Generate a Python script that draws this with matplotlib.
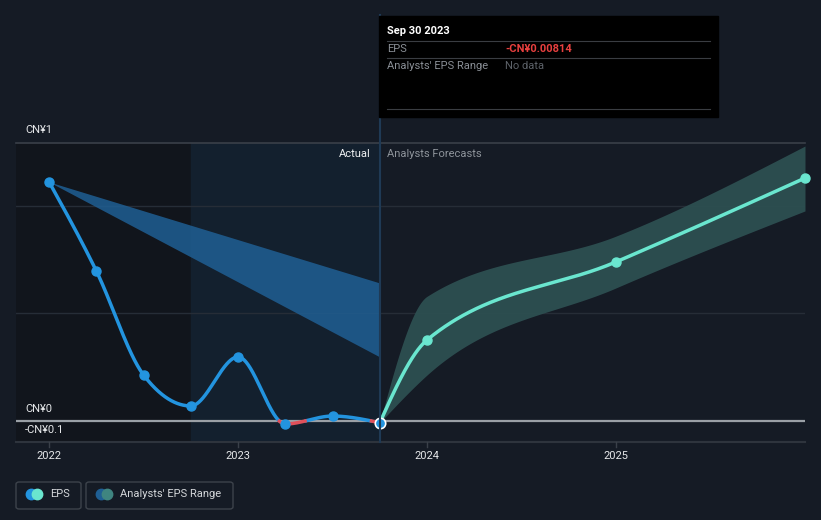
import numpy as np
import matplotlib
matplotlib.use("Agg")
import matplotlib.pyplot as plt
from matplotlib.patches import FancyBboxPatch, Rectangle, Circle

plt.rcParams['font.family'] = ['Roboto', 'DejaVu Sans']

# ---- data ----
eps_x = [2022.0, 2022.25, 2022.5, 2022.75, 2023.0, 2023.25, 2023.5, 2023.75]
eps_y = [1.112, 0.698, 0.214, 0.070, 0.298, -0.014, 0.023, -0.00814]

fc_x = [2023.75, 2024.0, 2025.0, 2026.0]
fc_y = [-0.00814, 0.377, 0.740, 1.13]
fc_hi = [-0.00814, 0.58, 0.86, 1.279]
fc_lo = [-0.00814, 0.214, 0.619, 0.977]

past_range_x = [2022.0, 2023.75]
past_range_hi = [1.112, 0.642]
past_range_lo = [1.112, 0.298]

year_ticks = [2022, 2023, 2024, 2025]

BG = '#151b25'
BLUE = '#2394df'
TEAL = '#6ae6cf'
RED = '#e0505a'


def monotone(x, y, n=200):
    x = np.asarray(x, float); y = np.asarray(y, float)
    h = np.diff(x); d = np.diff(y) / h
    m = np.zeros_like(y)
    for i in range(1, len(x) - 1):
        if d[i - 1] * d[i] <= 0:
            m[i] = 0
        else:
            p = (d[i - 1] * h[i] + d[i] * h[i - 1]) / (h[i - 1] + h[i])
            m[i] = (np.sign(d[i - 1]) + np.sign(d[i])) * min(abs(d[i - 1]), abs(d[i]), 0.5 * abs(p))
    m[0] = (3 * d[0] - m[1]) / 2 if len(x) > 2 else d[0]
    m[-1] = (3 * d[-1] - m[-2]) / 2 if len(x) > 2 else d[-1]
    xs, ys = [], []
    for i in range(len(x) - 1):
        t = np.linspace(0, 1, n)
        h00 = 2 * t**3 - 3 * t**2 + 1
        h10 = t**3 - 2 * t**2 + t
        h01 = -2 * t**3 + 3 * t**2
        h11 = t**3 - t**2
        xs.append(x[i] + t * h[i])
        ys.append(h00 * y[i] + h10 * h[i] * m[i] + h01 * y[i + 1] + h11 * h[i] * m[i + 1])
    return np.concatenate(xs), np.concatenate(ys)


W, H = 821, 520
fig = plt.figure(figsize=(W / 100, H / 100), dpi=100)
fig.patch.set_facecolor(BG)

L, R, T, B = 16, 805, 143, 442
ax = fig.add_axes([L / W, 1 - B / H, (R - L) / W, (B - T) / H])
ax.set_facecolor(BG)
x0, x1 = 2021.825, 2026.0
ymin, ymax = -0.0977, 1.293
ax.set_xlim(x0, x1)
ax.set_ylim(ymin, ymax)
for s in ax.spines.values():
    s.set_visible(False)
ax.set_xticks([]); ax.set_yticks([])

# background regions
ax.axvspan(x0, 2022.75, color='#11151c', zorder=0)
ax.axvspan(2022.75, 2023.75, color='#13202e', zorder=0)

# gridlines
for g in [0.5, 1.0]:
    ax.axhline(g, color='#262d37', lw=1, zorder=1)
ax.axhline(ymax, color='#3a4049', lw=1.2, zorder=1, clip_on=False)
ax.axhline(ymin, color='#2e343d', lw=1.5, zorder=1, clip_on=False)

# past analysts range (blue triangle)
ax.fill_between(past_range_x, past_range_lo, past_range_hi, color='#1f5f94', alpha=0.85, lw=0, zorder=2)

# forecast band
bx, bhi = monotone(fc_x, fc_hi)
_, blo = monotone(fc_x, fc_lo)
ax.fill_between(bx, blo, bhi, color='#2d4f51', alpha=0.95, lw=0, zorder=2)

# zero line
ax.axhline(0, color='#9aa0a6', lw=1.6, zorder=3)

# eps curve, blue above zero, red below
ex, ey = monotone(eps_x, eps_y)
ax.plot(ex, np.where(ey >= 0, ey, np.nan), color=BLUE, lw=2.5, zorder=4, solid_capstyle='round')
ax.plot(ex, np.where(ey < 0.0, ey, np.nan), color=RED, lw=2.5, zorder=4)
ax.plot(eps_x[:-1], eps_y[:-1], 'o', color=BLUE, ms=6.5, zorder=5)

fx, fy = monotone(fc_x, fc_y)
ax.plot(fx, fy, color=TEAL, lw=2.5, zorder=4)
ax.plot(fc_x[1:], fc_y[1:], 'o', color=TEAL, ms=6.5, zorder=5, clip_on=False)
ax.plot([eps_x[-1]], [eps_y[-1]], 'o', color=BLUE, ms=7.5, mec='white', mew=1.2, zorder=6)

# vertical tooltip line
fig.add_artist(plt.Line2D([379.5 / W, 379.5 / W], [1 - 15 / H, 1 - B / H], color='#1f3a55', lw=1.5, zorder=1))

# tick marks and year labels
for yr in year_ticks:
    ax.plot([yr, yr], [ymin, ymin - 0.025], color='#3a4049', lw=1, clip_on=False)
    px = L + (yr - x0) / (x1 - x0) * (R - L)
    fig.text(px / W, 1 - 456 / H, str(yr), color='#e6e8ea', fontsize=8, ha='center', va='center')

# y labels
fig.text(25 / W, 1 - 130 / H, 'CN¥1', color='#e6e8ea', fontsize=8, va='center')
fig.text(25 / W, 1 - 409 / H, 'CN¥0', color='#e6e8ea', fontsize=8, va='center')
fig.text(25 / W, 1 - 430 / H, '-CN¥0.1', color='#e6e8ea', fontsize=8, va='center')

fig.text(371 / W, 1 - 154 / H, 'Actual', color='#eef0f2', fontsize=8, ha='right', va='center')
fig.text(387 / W, 1 - 154 / H, 'Analysts Forecasts', color='#8e949b', fontsize=8, ha='left', va='center')

# tooltip
fig.add_artist(Rectangle((379 / W, 1 - 117 / H), (718 - 379) / W, (117 - 16) / H, color='#000000', zorder=10))
fig.text(387 / W, 1 - 31 / H, 'Sep 30 2023', color='#ffffff', fontsize=8, fontweight='bold', va='center', zorder=11)
for yy in [41, 58, 109]:
    fig.add_artist(plt.Line2D([387 / W, 710 / W], [1 - yy / H, 1 - yy / H], color='#3a3d42', lw=0.8, zorder=11))
fig.text(387 / W, 1 - 49 / H, 'EPS', color='#8a8f96', fontsize=8, va='center', zorder=11)
fig.text(505 / W, 1 - 49 / H, '-CN¥0.00814', color='#e8403f', fontsize=8, fontweight='bold', va='center', zorder=11)
fig.text(387 / W, 1 - 66 / H, "Analysts' EPS Range", color='#8a8f96', fontsize=8, va='center', zorder=11)
fig.text(505 / W, 1 - 66 / H, 'No data', color='#5d6269', fontsize=8, va='center', zorder=11)

# legend
def legbox(x, w, c1, c2, label):
    fig.add_artist(FancyBboxPatch((x / W, 1 - 509 / H), w / W, 27 / H,
                                  boxstyle='round,pad=0,rounding_size=0.004',
                                  fc='none', ec='#3d434b', lw=1))
    cy = 1 - 494 / H
    fig.add_artist(plt.Line2D([(x + 15) / W], [cy], marker='o', ms=7.5, color=c1, lw=0))
    fig.add_artist(plt.Line2D([(x + 21) / W], [cy], marker='o', ms=7.5, color=c2, lw=0))
    fig.text((x + 34) / W, cy, label, color='#d4d7da', fontsize=8, va='center')

legbox(16, 65, '#2394df', '#6ae6cf', 'EPS')
legbox(86, 147, '#1f5f94', '#3f8580', "Analysts' EPS Range")

fig.savefig('out.png', dpi=100, facecolor=BG)
